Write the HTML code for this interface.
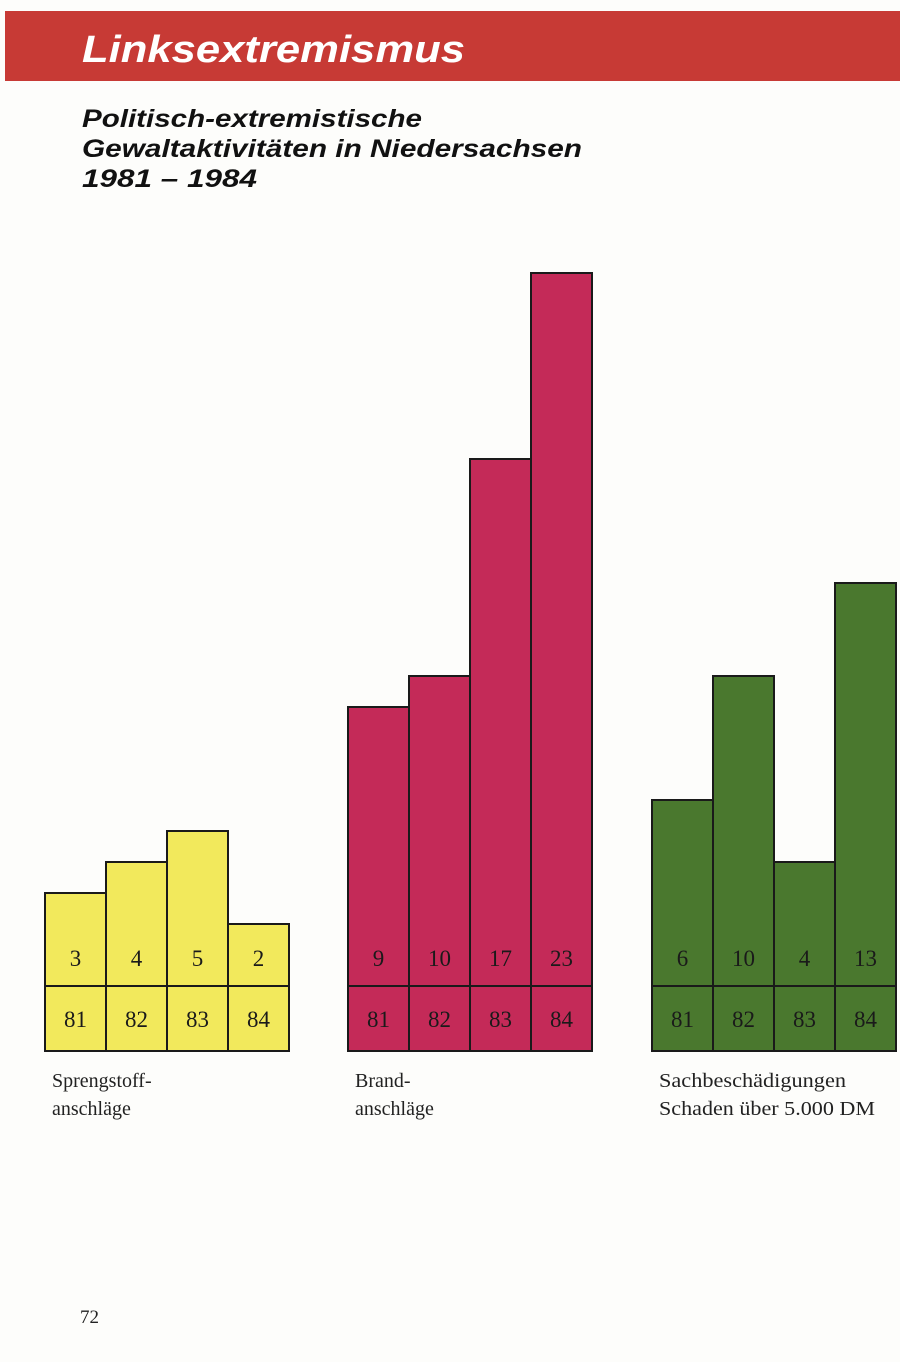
<!DOCTYPE html>
<html><head><meta charset="utf-8"><style>
body{margin:0;background:#fff;}
svg{display:block;}
</style></head><body>
<svg width="900" height="1362" viewBox="0 0 900 1362" xmlns="http://www.w3.org/2000/svg">
<rect x="0" y="0" width="900" height="1362" fill="#fdfdfb"/>
<rect x="5" y="11" width="895" height="70" fill="#c73a35"/>
<text x="82" y="62" font-family="Liberation Sans, sans-serif" font-weight="bold" font-style="italic" font-size="38" fill="#fff" textLength="383" lengthAdjust="spacingAndGlyphs">Linksextremismus</text>
<g font-family="Liberation Sans, sans-serif" font-weight="bold" font-style="italic" font-size="25" fill="#111">
<text x="82" y="127" textLength="340" lengthAdjust="spacingAndGlyphs">Politisch-extremistische</text>
<text x="82" y="157" textLength="500" lengthAdjust="spacingAndGlyphs">Gewaltaktivitäten in Niedersachsen</text>
<text x="82" y="187" textLength="175" lengthAdjust="spacingAndGlyphs">1981 – 1984</text>
</g>
<g id="bars"></g>
<g font-family="Liberation Serif, serif" font-size="20" fill="#222">
<text x="52" y="1087">Sprengstoff-</text>
<text x="52" y="1115">anschläge</text>
<text x="355" y="1087">Brand-</text>
<text x="355" y="1115">anschläge</text>
<text x="659" y="1087" textLength="187" lengthAdjust="spacingAndGlyphs">Sachbeschädigungen</text>
<text x="659" y="1115" textLength="216" lengthAdjust="spacingAndGlyphs">Schaden über 5.000 DM</text>
</g>
<text x="80" y="1323" font-family="Liberation Serif, serif" font-size="19" fill="#222">72</text>
</svg>
<script>
const years = ["81","82","83","84"];
const sprengstoff = [3,4,5,2];
const brand = [9,10,17,23];
const sach = [6,10,4,13];
const groups = [
  {name:"sprengstoff", vals:sprengstoff, x0:45, color:"#f2e95c"},
  {name:"brand", vals:brand, x0:348, color:"#c42a58"},
  {name:"sach", vals:sach, x0:652, color:"#4a782e"}
];
const base = 986, unit = 31, bw = 61, yearH = 65;
const yScale = v => base - v*unit;
const NS = "http://www.w3.org/2000/svg";
const g = document.getElementById("bars");
function mk(tag, attrs){const e=document.createElementNS(NS,tag);for(const k in attrs)e.setAttribute(k,attrs[k]);g.appendChild(e);return e;}
groups.forEach(gr=>{
  gr.vals.forEach((v,i)=>{
    const x = gr.x0 + i*bw;
    const r = mk("rect",{x:x,y:yScale(v),width:bw,height:base-yScale(v)+yearH,fill:gr.color,stroke:"#1a1a1a","stroke-width":2});
    
    
    const t = mk("text",{x:x+bw/2,y:966,"text-anchor":"middle","font-family":"Liberation Serif, serif","font-size":23,fill:"#1a1a1a"});
    t.textContent = v;
    
    
    const y = mk("text",{x:x+bw/2,y:1027,"text-anchor":"middle","font-family":"Liberation Serif, serif","font-size":23,fill:"#1a1a1a"});
    y.textContent = years[i];
    
    
  });
  const l = mk("line",{x1:gr.x0,x2:gr.x0+bw*4,y1:base,y2:base,stroke:"#1a1a1a","stroke-width":2});
  
  
});
</script>
</body></html>
